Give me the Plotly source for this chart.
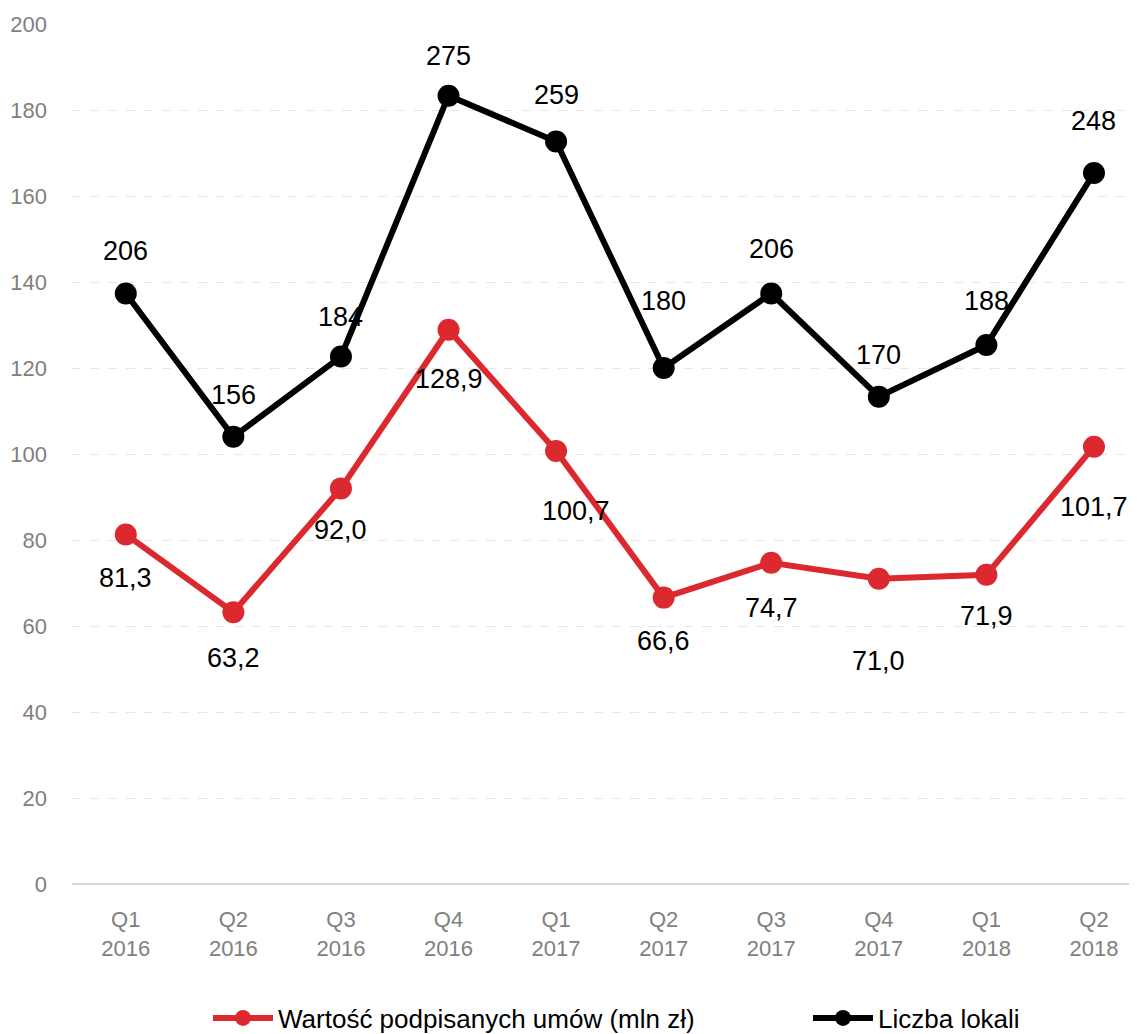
import plotly.graph_objects as go

categories = ["Q1<br>2016", "Q2<br>2016", "Q3<br>2016", "Q4<br>2016", "Q1<br>2017",
              "Q2<br>2017", "Q3<br>2017", "Q4<br>2017", "Q1<br>2018", "Q2<br>2018"]
wartosc = [81.3, 63.2, 92.0, 128.9, 100.7, 66.6, 74.7, 71.0, 71.9, 101.7]
lokale = [206, 156, 184, 275, 259, 180, 206, 170, 188, 248]

name_red = "Wartość podpisanych umów (mln zł)"
name_black = "Liczba lokali"

# label offsets (style only)
red_shift = [-44, -46, -42, -49, -60, -43, -45, -82, -41, -60]
red_xshift = [0, 0, 0, 0, 20, 0, 0, 0, 0, 0]
black_shift = [42, 42, 40, 40, 47, 67, 44, 42, 44, 52]

FONT = "Liberation Sans, Arial, sans-serif"
x = list(range(len(categories)))

W, H = 1129, 1026

fig = go.Figure()
fig.add_trace(go.Scatter(x=x, y=wartosc, name=name_red, mode="lines+markers",
                         line=dict(color="#DC292F", width=6),
                         marker=dict(size=22, color="#DC292F"), yaxis="y",
                         legend="legend"))
fig.add_trace(go.Scatter(x=x, y=lokale, name=name_black, mode="lines+markers",
                         line=dict(color="#000000", width=6),
                         marker=dict(size=22, color="#000000"), yaxis="y2",
                         legend="legend2"))

def fmt(v):
    return f"{v:.1f}".replace(".", ",")

for i, v in enumerate(wartosc):
    fig.add_annotation(x=x[i], y=v, yref="y", text=fmt(v), showarrow=False,
                       yshift=red_shift[i], xshift=red_xshift[i],
                       font=dict(family=FONT, size=27, color="#000"))
for i, v in enumerate(lokale):
    fig.add_annotation(x=x[i], y=v, yref="y2", text=str(v), showarrow=False,
                       yshift=black_shift[i],
                       font=dict(family=FONT, size=27, color="#000"))

leg_common = dict(orientation="h", xref="container", yref="container",
                  yanchor="middle", xanchor="left", y=16 / H,
                  font=dict(family=FONT, size=26, color="#000"),
                  bgcolor="rgba(0,0,0,0)", itemwidth=60)

fig.update_layout(
    width=W, height=H,
    margin=dict(l=64, r=0, t=16, b=150),
    plot_bgcolor="white", paper_bgcolor="white",
    font=dict(family=FONT, size=22, color="#808080"),
    showlegend=True,
    legend=dict(**leg_common, x=200 / W),
    legend2=dict(**leg_common, x=800 / W),
    xaxis=dict(tickmode="array", tickvals=x, ticktext=categories,
               range=[-0.5, 9.4], showgrid=False, zeroline=False, showline=False,
               automargin=False, ticklabelstandoff=20,
               tickfont=dict(family=FONT, size=22, color="#808080")),
    yaxis=dict(range=[0, 200], dtick=20, showgrid=True, gridcolor="#E6E6E6",
               griddash="dash", gridwidth=1, zeroline=True, zerolinecolor="#D9D9D9",
               zerolinewidth=2, ticklabelstandoff=24, automargin=False,
               tickfont=dict(family=FONT, size=22, color="#808080")),
    yaxis2=dict(range=[0, 300], overlaying="y", side="right", visible=False,
                showgrid=False, automargin=False),
)

fig.write_html("out.html")
